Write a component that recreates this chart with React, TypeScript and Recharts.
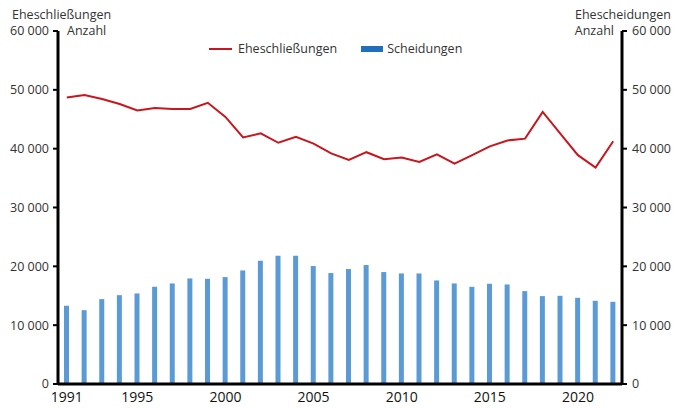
import { Bar, ComposedChart, Line, XAxis, YAxis } from "recharts";

const YEARS = [
  1991, 1992, 1993, 1994, 1995, 1996, 1997, 1998, 1999, 2000, 2001, 2002, 2003, 2004, 2005, 2006,
  2007, 2008, 2009, 2010, 2011, 2012, 2013, 2014, 2015, 2016, 2017, 2018, 2019, 2020, 2021, 2022,
];

// Eheschließungen
const MARRIAGES = [
  48700, 49100, 48450, 47600, 46500, 46900, 46750, 46750, 47800, 45400, 41900, 42600, 41000, 42000,
  40850, 39200, 38100, 39400, 38200, 38500, 37750, 39050, 37450, 38900, 40400, 41400, 41700, 46250,
  42550, 38900, 36800, 41250,
];

// Scheidungen
const DIVORCES = [
  13300, 12550, 14430, 15100, 15390, 16530, 17090, 17940, 17890, 18170, 19300, 20950, 21800, 21800,
  20050, 18860, 19540, 20220, 19030, 18790, 18790, 17600, 17090, 16520, 17040, 16920, 15790, 14940,
  14990, 14650, 14140, 13970,
];

const Y_TICKS = [0, 10000, 20000, 30000, 40000, 50000, 60000];
const X_LABELS = [1991, 1995, 2000, 2005, 2010, 2015, 2020];

const RED = "#c8161e";
const BAR_BLUE = "#5b9bd5";
const LEGEND_BLUE = "#1f6fbd";
const FONT = "'Open Sans', sans-serif";
const TEXT = "#333";

const data = YEARS.map((year, i) => ({
  year,
  marriages: MARRIAGES[i],
  divorces: DIVORCES[i],
}));

const fmt = (v: number) => (v === 0 ? "0" : `${Math.round(v / 1000)} 000`);

function LegendBox() {
  return (
    <div
      style={{
        position: "absolute",
        top: 40,
        left: 209,
        display: "flex",
        gap: 24,
        fontFamily: FONT,
        fontSize: 12.5,
        color: TEXT,
        lineHeight: "18px",
      }}
    >
      <span style={{ display: "flex", alignItems: "center", gap: 6 }}>
        <span style={{ width: 23, height: 2, background: RED, display: "inline-block" }} />
        Eheschließungen
      </span>
      <span style={{ display: "flex", alignItems: "center", gap: 4 }}>
        <span style={{ width: 22, height: 6, background: LEGEND_BLUE, display: "inline-block" }} />
        Scheidungen
      </span>
    </div>
  );
}

export default function App() {
  const tickStyle = { fill: TEXT, fontSize: 12.5, fontFamily: FONT };
  return (
    <div style={{ position: "absolute", left: 0, top: 0, width: 676, height: 408, background: "#fff" }}>
      <ComposedChart
        width={676}
        height={408}
        data={data}
        margin={{ top: 31, right: 0, bottom: 0, left: 0 }}
      >
        <XAxis
          dataKey="year"
          height={24}
          axisLine={{ stroke: "#000", strokeWidth: 3 }}
          tickLine={false}
          interval={0}
          tickFormatter={(v: number) => (X_LABELS.includes(v) ? String(v) : "")}
          tick={{ fill: "#111", fontSize: 14, fontFamily: FONT }}
          tickMargin={2}
        />
        <YAxis
          yAxisId="left"
          orientation="left"
          width={58}
          domain={[0, 60000]}
          ticks={Y_TICKS}
          tickFormatter={fmt}
          axisLine={{ stroke: "#000", strokeWidth: 3 }}
          tickLine={{ stroke: "#000", strokeWidth: 2 }}
          tickSize={5}
          tickMargin={4}
          tick={tickStyle}
        />
        <YAxis
          yAxisId="right"
          orientation="right"
          width={54}
          domain={[0, 60000]}
          ticks={Y_TICKS}
          tickFormatter={fmt}
          axisLine={{ stroke: "#000", strokeWidth: 3 }}
          tickLine={{ stroke: "#000", strokeWidth: 2 }}
          tickSize={5}
          tickMargin={5}
          tick={tickStyle}
        />
        <Bar
          yAxisId="right"
          dataKey="divorces"
          fill={BAR_BLUE}
          barSize={5}
          isAnimationActive={false}
        />
        <Line
          yAxisId="left"
          dataKey="marriages"
          type="linear"
          stroke={RED}
          strokeWidth={2}
          dot={false}
          isAnimationActive={false}
        />
        <text x={12} y={19} fill={TEXT} fontSize={12.5} fontFamily={FONT}>
          Eheschließungen
        </text>
        <text x={67} y={35} fill={TEXT} fontSize={12.5} fontFamily={FONT}>
          Anzahl
        </text>
        <text x={575} y={19} fill={TEXT} fontSize={12.5} fontFamily={FONT}>
          Ehescheidungen
        </text>
        <text x={614} y={35} fill={TEXT} fontSize={12.5} fontFamily={FONT} textAnchor="end">
          Anzahl
        </text>
      </ComposedChart>
      <LegendBox />
    </div>
  );
}
